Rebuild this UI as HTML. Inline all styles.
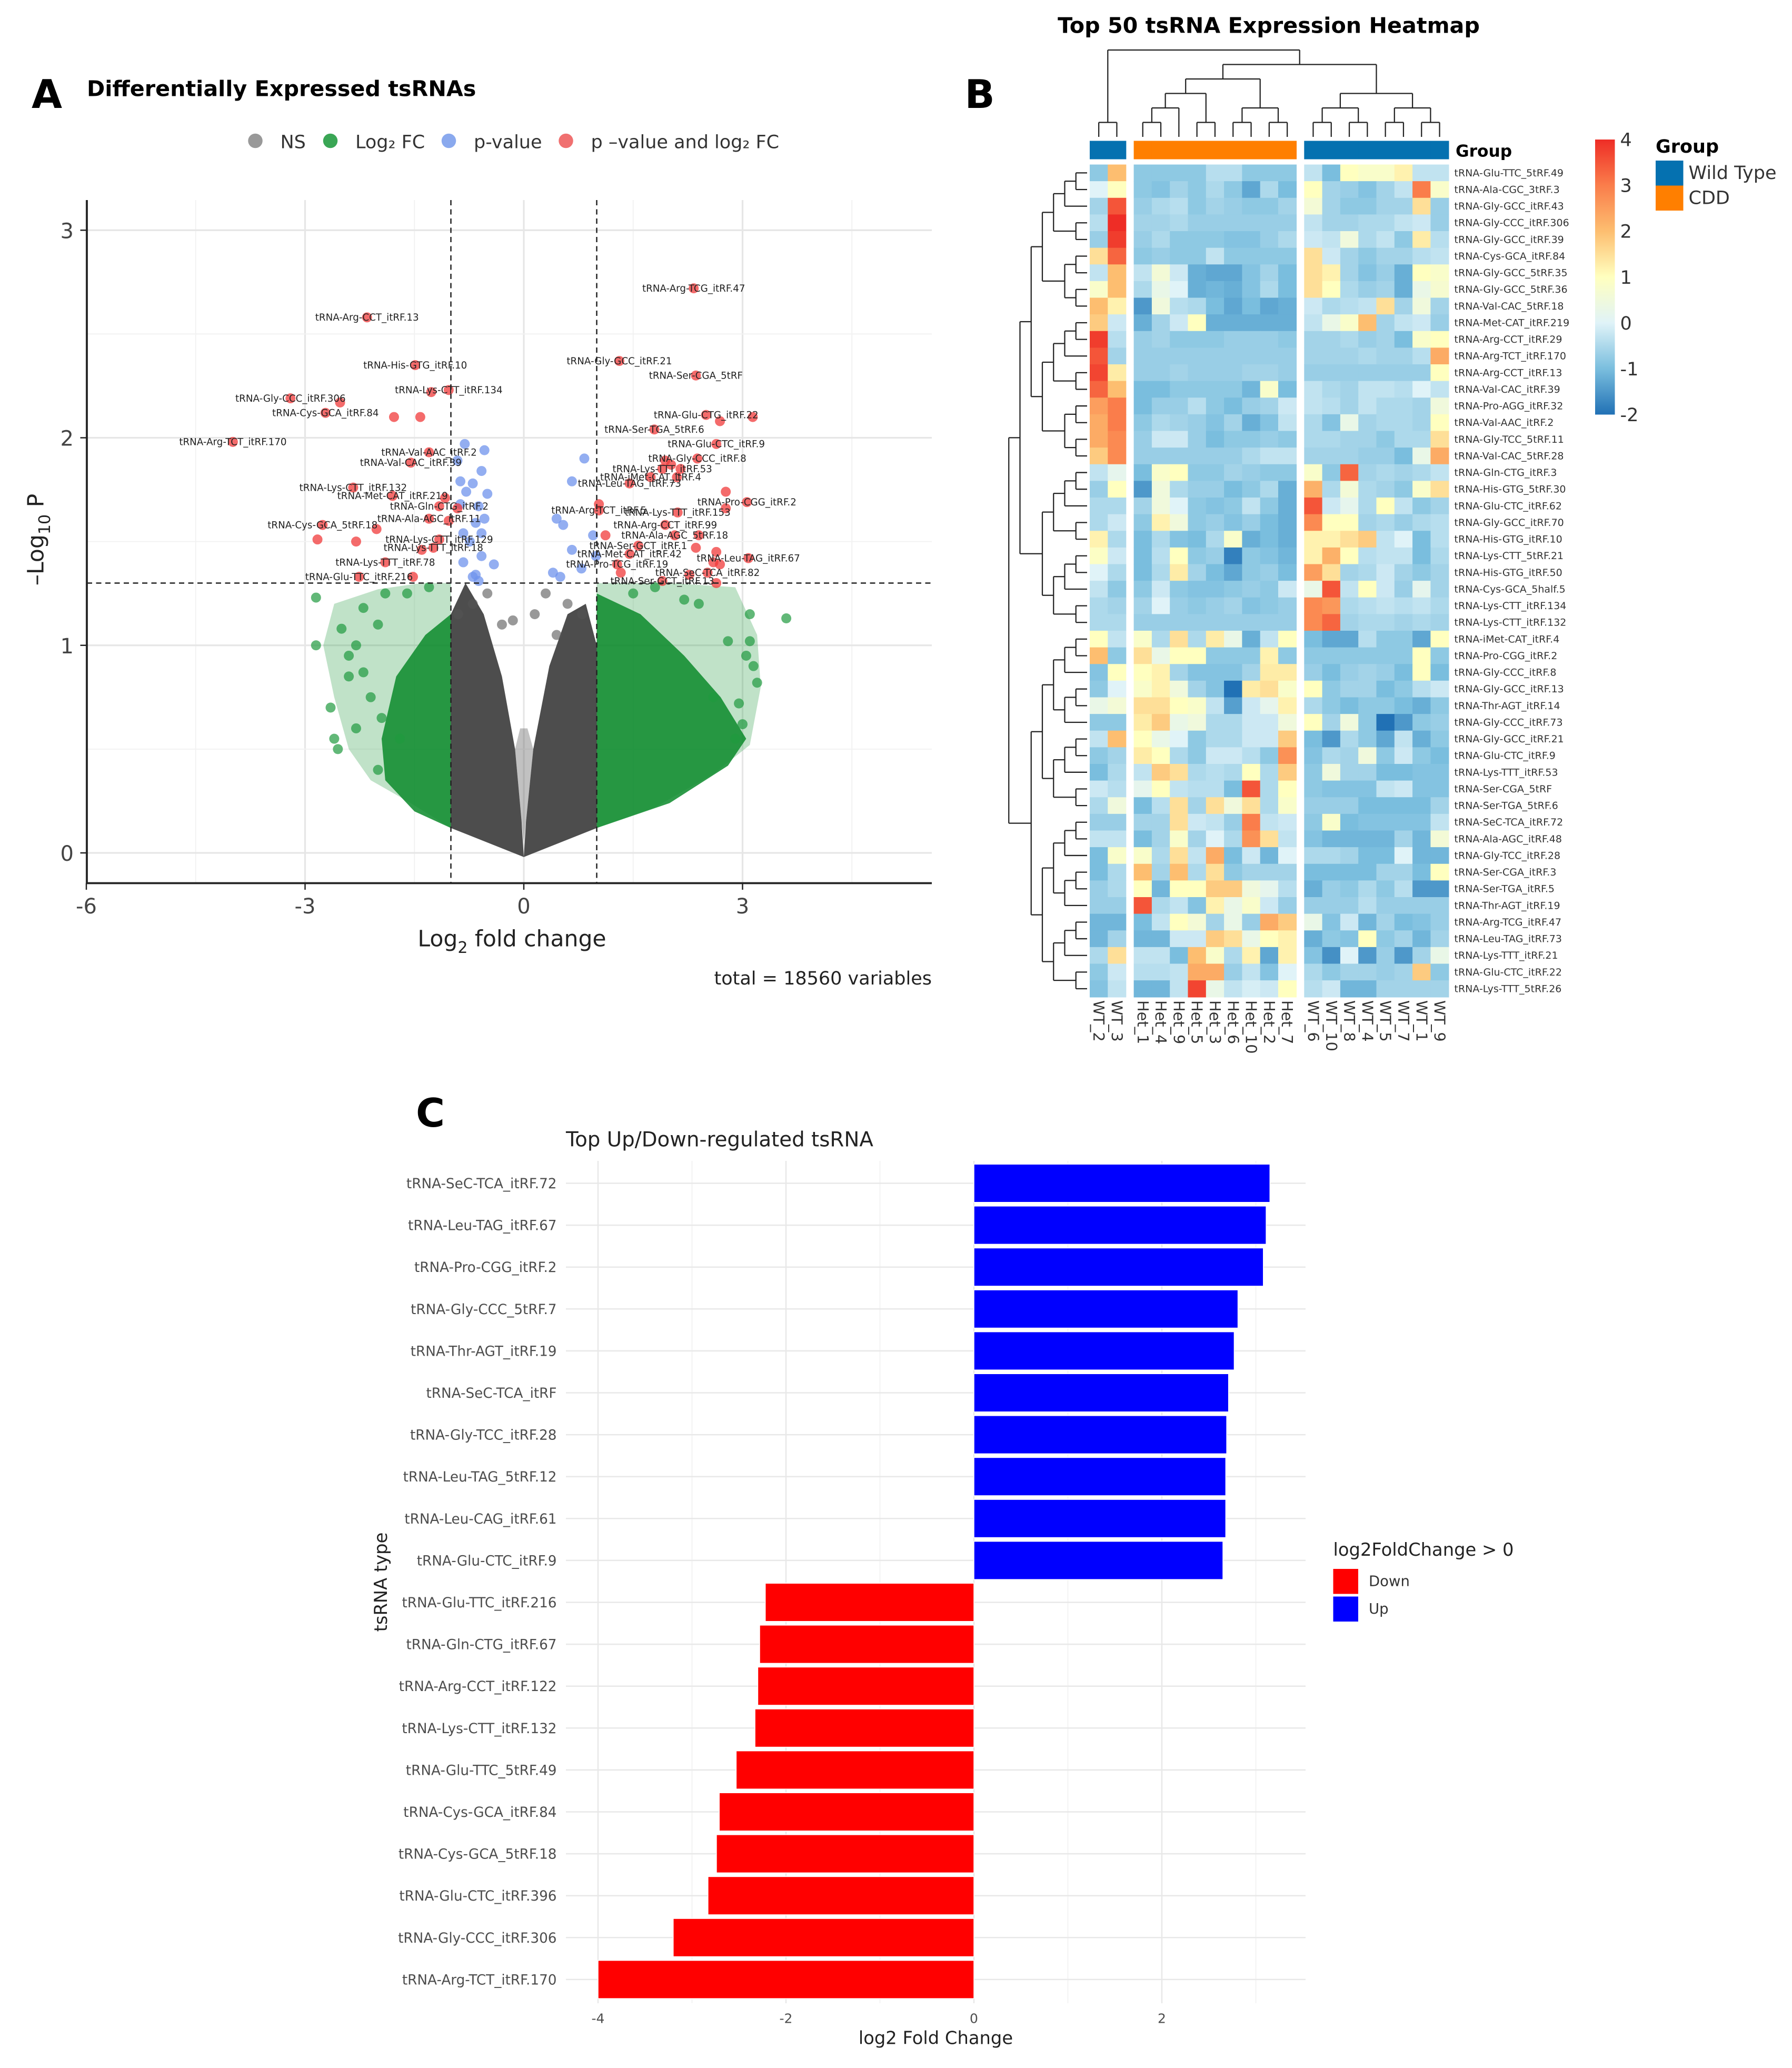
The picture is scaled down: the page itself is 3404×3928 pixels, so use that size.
<!DOCTYPE html>
<html><head><meta charset="utf-8"><style>
html,body{margin:0;padding:0;background:#fff}
svg{display:block}
text{font-family:"DejaVu Sans","Liberation Sans",sans-serif}
</style></head><body>
<svg id="s" xmlns="http://www.w3.org/2000/svg" width="3404" height="3928" viewBox="0 0 1361.6 1571.2">
<rect width="1361.6" height="1571.2" fill="#fff"/>
<g id="A"></g>
<g id="B"></g>
<g id="C"></g>
</svg>
<script>
// ===== Panel A data =====
const redX=[-2.15,-1.49,1.31,2.36,-1.03,-1.27,-3.2,-2.52,-2.72,-1.78,-1.42,2.5,3.14,2.69,1.79,-3.99,2.64,-1.3,2.38,1.94,2.02,-1.55,1.9,2.15,1.74,2.1,1.45,-2.34,-1.8,-1.08,-1.16,-0.91,1.03,1.03,3.06,2.77,2.77,2.11,-1.3,-1.03,1.94,-2.76,-2.02,-2.83,-2.3,2.07,1.12,2.4,-1.16,1.57,2.36,-1.24,-1.4,1.45,2.64,3.08,2.6,2.69,-1.9,1.28,2.52,2.27,-2.26,-1.52,1.9,1.33,2.64,2.33];
const redY=[2.58,2.35,2.37,2.30,2.23,2.22,2.19,2.17,2.12,2.1,2.1,2.11,2.1,2.08,2.04,1.98,1.97,1.93,1.9,1.89,1.87,1.88,1.85,1.85,1.81,1.81,1.78,1.76,1.72,1.71,1.67,1.66,1.65,1.68,1.69,1.74,1.66,1.64,1.61,1.6,1.58,1.58,1.56,1.51,1.5,1.53,1.53,1.53,1.51,1.48,1.47,1.47,1.46,1.44,1.45,1.42,1.4,1.39,1.4,1.39,1.35,1.34,1.33,1.33,1.31,1.35,1.3,2.72];
const redLab=["tRNA-Arg-CCT_itRF.13","tRNA-His-GTG_itRF.10","tRNA-Gly-GCC_itRF.21","tRNA-Ser-CGA_5tRF","tRNA-Lys-CTT_itRF.134","","tRNA-Gly-CCC_itRF.306","","tRNA-Cys-GCA_itRF.84","","","tRNA-Glu-CTG_itRF.22","","","tRNA-Ser-TGA_5tRF.6","tRNA-Arg-TCT_itRF.170","tRNA-Glu-CTC_itRF.9","tRNA-Val-AAC_itRF.2","tRNA-Gly-CCC_itRF.8","","","tRNA-Val-CAC_itRF.39","tRNA-Lys-TTT_itRF.53","","tRNA-iMet-CAT_itRF.4","","tRNA-Leu-TAG_itRF.73","tRNA-Lys-CTT_itRF.132","tRNA-Met-CAT_itRF.219","","tRNA-Gln-CTG_itRF.2","","tRNA-Arg-TCT_itRF.5","","tRNA-Pro-CGG_itRF.2","","","tRNA-Lys-TTT_itRF.153","tRNA-Ala-AGC_itRF.11","","tRNA-Arg-CCT_itRF.99","tRNA-Cys-GCA_5tRF.18","","","","tRNA-Ala-AGC_5tRF.18","","","tRNA-Lys-CTT_itRF.129","tRNA-Ser-GCT_itRF.1","","tRNA-Lys-TTT_itRF.18","","tRNA-Met-CAT_itRF.42","","tRNA-Leu-TAG_itRF.67","","","tRNA-Lys-TTT_itRF.78","tRNA-Pro-TCG_itRF.19","tRNA-SeC-TCA_itRF.82","","tRNA-Glu-TTC_itRF.216","","tRNA-Ser-GCT_itRF.13","","","tRNA-Arg-TCG_itRF.47"];
const blueX=[-0.81,-0.54,-0.91,-0.58,-0.87,-0.7,-0.5,-0.79,-0.87,-0.62,-0.54,-0.66,-0.83,-0.58,-0.74,-0.58,-0.83,-0.41,-0.66,-0.62,0.83,0.66,0.45,0.54,0.66,0.95,0.4,0.79,0.99,0.5,-0.7];
const blueY=[1.97,1.94,1.89,1.84,1.79,1.78,1.73,1.74,1.68,1.67,1.61,1.59,1.54,1.54,1.5,1.43,1.4,1.39,1.34,1.31,1.9,1.79,1.61,1.58,1.46,1.53,1.35,1.37,1.43,1.33,1.33];
const greenX=[-2.85,-2.85,-2.3,-2.6,-2.55,-2.0,3.6,3.1,3.15,2.4,-1.9,-2.5,-2.2,2.9,3.0,-2.2,-1.6,2.8,2.2,-2.4,1.5,1.8,-1.3,2.6,3.05,-2.1,-1.95,-2.4,-2.65,3.2,3.1,2.95,-2.3,-1.7,-2.0];
const greenY=[1.23,1.0,0.6,0.55,0.5,0.4,1.13,1.15,0.9,1.2,1.25,1.08,0.87,0.55,0.62,1.18,1.25,1.02,1.22,0.95,1.25,1.28,1.28,0.75,0.95,0.75,0.65,0.85,0.7,0.82,1.02,0.72,1.0,0.55,1.1];
const greyX=[-0.5,-0.7,0.3,0.6,0.8,-0.9,-0.3,0.15,-0.15,0.45];
const greyY=[1.25,1.2,1.25,1.2,1.15,1.15,1.1,1.15,1.12,1.05];
const xTicksA=[-6,-3,0,3];
const yTicksA=[0,1,2,3];

// ===== Panel B data =====
const hmCols=["WT_2","WT_3","Het_1","Het_4","Het_9","Het_5","Het_3","Het_6","Het_10","Het_2","Het_7","WT_6","WT_10","WT_8","WT_4","WT_5","WT_7","WT_1","WT_9"];
const hmGroups=["WT","WT","CDD","CDD","CDD","CDD","CDD","CDD","CDD","CDD","CDD","WT","WT","WT","WT","WT","WT","WT","WT"];
const hmRows=["tRNA-Glu-TTC_5tRF.49","tRNA-Ala-CGC_3tRF.3","tRNA-Gly-GCC_itRF.43","tRNA-Gly-CCC_itRF.306","tRNA-Gly-GCC_itRF.39","tRNA-Cys-GCA_itRF.84","tRNA-Gly-GCC_5tRF.35","tRNA-Gly-GCC_5tRF.36","tRNA-Val-CAC_5tRF.18","tRNA-Met-CAT_itRF.219","tRNA-Arg-CCT_itRF.29","tRNA-Arg-TCT_itRF.170","tRNA-Arg-CCT_itRF.13","tRNA-Val-CAC_itRF.39","tRNA-Pro-AGG_itRF.32","tRNA-Val-AAC_itRF.2","tRNA-Gly-TCC_5tRF.11","tRNA-Val-CAC_5tRF.28","tRNA-Gln-CTG_itRF.3","tRNA-His-GTG_5tRF.30","tRNA-Glu-CTC_itRF.62","tRNA-Gly-GCC_itRF.70","tRNA-His-GTG_itRF.10","tRNA-Lys-CTT_5tRF.21","tRNA-His-GTG_itRF.50","tRNA-Cys-GCA_5half.5","tRNA-Lys-CTT_itRF.134","tRNA-Lys-CTT_itRF.132","tRNA-iMet-CAT_itRF.4","tRNA-Pro-CGG_itRF.2","tRNA-Gly-CCC_itRF.8","tRNA-Gly-GCC_itRF.13","tRNA-Thr-AGT_itRF.14","tRNA-Gly-CCC_itRF.73","tRNA-Gly-GCC_itRF.21","tRNA-Glu-CTC_itRF.9","tRNA-Lys-TTT_itRF.53","tRNA-Ser-CGA_5tRF","tRNA-Ser-TGA_5tRF.6","tRNA-SeC-TCA_itRF.72","tRNA-Ala-AGC_itRF.48","tRNA-Gly-TCC_itRF.28","tRNA-Ser-CGA_itRF.3","tRNA-Ser-TGA_itRF.5","tRNA-Thr-AGT_itRF.19","tRNA-Arg-TCG_itRF.47","tRNA-Leu-TAG_itRF.73","tRNA-Lys-TTT_itRF.21","tRNA-Glu-CTC_itRF.22","tRNA-Lys-TTT_5tRF.26"];
const hmVals=[
[-0.8,2,-0.8,-0.8,-0.8,-0.8,-0.4,-0.4,-0.8,-0.8,-0.8,-0.3,-1,1,0.8,0.8,1.2,-0.3,-0.3],
[0,1,-0.8,-0.9,-0.6,-0.8,-0.5,-0.8,-1.3,-0.5,-1,1,-0.6,-0.7,-0.9,-0.6,-0.3,3,0.8],
[-0.6,3.5,-0.7,-0.5,-0.4,-0.8,-0.6,-0.7,-0.8,-0.8,-0.6,0.6,-0.6,-0.8,-0.8,-0.6,-0.6,1.5,-0.7],
[-0.4,4,-0.6,-0.6,-0.5,-0.7,-0.7,-0.7,-0.7,-0.7,-0.7,-0.3,-0.6,-0.6,-0.5,-0.5,-0.3,-0.2,-0.7],
[-0.7,3.8,-0.7,-0.5,-0.8,-0.8,-0.8,-0.9,-0.9,-0.7,-0.5,-0.2,-0.3,0.5,-0.5,-0.3,-0.8,1.3,-0.4],
[1.5,3.3,-0.8,-0.7,-0.8,-0.8,-0.3,-0.8,-0.8,-0.8,-0.8,1.5,-0.2,-0.6,-0.8,-0.6,-0.6,-0.4,-0.3],
[-0.3,2,-0.3,0.6,-0.2,-1.2,-1.3,-1.3,-0.9,-0.6,-1,1.5,1.2,-0.6,-0.9,-0.7,-1.2,1,0.8],
[0.8,2,-0.5,0.3,0,-1.2,-1.1,-1.2,-0.9,-0.5,-1,1.5,1,-0.5,-0.7,-0.6,-1.2,0.3,0.7],
[2,1.2,-1.5,0.5,-0.4,-0.5,-1,-1.3,-1,-1.3,-1.2,-0.2,-0.5,-0.4,-0.3,1.5,-0.6,0.5,-0.6],
[1.8,-0.2,-1.2,-0.6,-0.2,1,-1.2,-1.2,-1.2,-1.2,-1.2,-0.3,0.3,0.8,2,-0.6,-0.3,-0.2,-0.7],
[3.8,-0.4,-0.7,-0.6,-0.8,-0.8,-0.8,-0.7,-0.7,-0.7,-0.8,-0.6,-0.6,-0.5,-0.7,-0.6,-1,0.8,1],
[3.5,-0.6,-0.7,-0.7,-0.7,-0.7,-0.7,-0.7,-0.7,-0.7,-0.7,-0.6,-0.6,-0.6,-0.5,-0.6,-0.6,-0.4,2.3],
[3.7,1.3,-0.7,-0.7,-0.6,-0.7,-0.7,-0.7,-0.6,-0.6,-0.7,-0.7,-0.7,-0.7,-0.7,-0.7,-0.7,-0.7,1],
[3.3,2,-1,-1,-0.8,-0.8,-0.8,-0.8,-1.1,0.8,-1,-0.3,-0.5,-0.6,-0.3,-0.3,-0.4,0,-0.3],
[2.5,3,-1,-0.7,-0.7,-0.4,-0.8,-1,-0.7,-0.6,-0.2,-0.3,-0.4,-0.6,-0.3,-0.5,-0.5,-0.6,0.5],
[2.3,3,-0.8,-0.5,-0.6,-0.7,-0.9,-0.6,-1.2,-0.9,-0.3,-0.5,-0.9,0.3,-0.6,-0.5,-0.5,-0.6,1],
[2.3,2.8,-0.7,-0.2,-0.2,-0.7,-1,-0.8,-0.8,-0.7,-0.8,-0.5,-0.5,-0.6,-0.6,-0.8,-0.5,-0.5,1.5],
[1.8,2.8,-0.7,-0.7,-0.7,-0.7,-0.7,-0.7,-0.5,-0.3,-0.3,-0.6,-0.6,-0.6,-0.7,-0.7,-1,0.3,2.3],
[-0.3,0.2,-1,0.8,1,-0.8,-0.8,-0.6,-0.7,-0.8,-0.8,0.8,-0.8,3.3,-0.6,-0.5,-0.6,-0.5,-0.3],
[-0.7,1,-1.5,0.5,-0.5,-0.7,-0.7,-1,-0.8,-0.5,-1.2,2.2,-0.5,0.6,-0.5,-0.6,-0.8,0.8,1.5],
[-0.5,-0.5,-0.6,0.5,0,-0.8,-0.9,-0.8,-0.3,-0.8,-1.2,3.5,-0.2,0.2,-0.5,1,-0.3,-0.8,-0.6],
[-0.5,-0.2,-0.8,1.2,0.5,-0.8,-0.7,-0.9,-0.7,-1,-1.2,2.8,1,1,-0.6,-0.5,-0.7,-0.5,-0.4],
[1.2,-0.5,-1,-0.5,-0.9,-1,-0.5,0.8,-1.2,-1,-1.2,1.2,1.2,1.5,1.8,-0.3,0,-1,-0.4],
[0.9,-0.2,-1,-0.4,1,-0.8,-0.7,-1.8,-0.8,-0.9,-1.1,1.2,2.2,1,-0.4,-0.3,-0.3,-1,-0.5],
[0,-0.5,-1,-0.5,1.3,-0.6,-1,-1.3,-0.8,-0.7,-1,2.5,1.5,-0.6,-0.5,-0.2,-0.6,-0.8,-0.6],
[-0.3,-0.8,-0.8,-0.2,-0.8,-0.9,-0.9,-0.8,-0.7,-0.8,-0.2,0.3,3.5,-0.3,1,-0.2,-0.7,0.2,-0.6],
[-0.5,-0.6,-0.6,0,-0.7,-0.8,-0.7,-0.6,-0.9,-0.8,-0.7,2.8,2.6,-0.5,-0.4,-0.3,-0.4,-0.3,-0.5],
[-0.5,-0.5,-0.7,-0.7,-0.7,-0.7,-0.7,-0.7,-0.7,-0.7,-0.7,2.8,3.3,-0.6,-0.5,-0.5,-0.6,-0.5,-0.6],
[1,-0.3,0.8,-0.5,1.5,-0.5,1.3,0.3,-1.2,-0.3,1,-1,-1.3,-1.3,-0.4,-0.8,-0.8,-1.3,1],
[2,-0.8,1.5,0.3,1,1,-0.8,-0.8,-0.8,1.2,-0.8,-0.8,-0.8,-0.8,-0.8,-0.8,-0.8,1,-0.8],
[-0.9,1,1,1.2,-0.6,-0.9,-0.9,-0.9,-0.6,1.3,1.3,-0.7,-1,-0.7,-0.6,-0.7,-1,1,-1],
[-0.8,0,0.8,1.2,0.5,-0.6,-0.9,-2,1.3,1.5,0.8,1,-0.8,-0.6,-0.6,-1,-0.8,-0.4,-0.2],
[0.3,0.6,1.5,1.5,1,0.8,-0.3,-1.4,-0.2,0.2,1.2,-0.5,-0.8,-1,-0.8,-0.8,-1,-1.2,-0.8],
[-0.8,-0.8,1.3,1.8,0.3,0.5,-0.5,-0.5,-0.2,-0.2,0.5,1,-0.6,0.5,-0.8,-2,-1.5,-0.8,-0.7],
[-0.3,2,1,0.3,0,-0.8,-0.5,-0.5,-0.2,-0.2,1.8,-1,-1.5,-0.5,-0.8,-1.3,-0.3,-1.2,-0.8],
[-0.8,-0.6,1.3,1,-0.5,-0.8,-0.2,-0.2,-0.4,-0.8,2.7,-0.9,-0.5,-0.6,0.5,-0.8,-0.2,-0.8,-1],
[-1,-0.5,-0.3,1.8,1.5,-0.5,-0.4,-0.5,1,-0.5,1.8,-0.8,0.5,-0.6,-0.6,-1,-1,-0.9,-0.9],
[-0.2,-0.4,0.2,1,-0.3,-0.4,-0.4,-1,3.5,-0.5,1,-0.8,-0.9,-0.9,-0.9,-0.3,-0.2,-0.9,-0.9],
[-0.5,0.5,-1,-0.4,1.5,-0.6,1.5,0.5,1.5,-0.5,0.8,-0.7,-0.7,-0.7,-1,-1,-1,-1,-0.6],
[-0.7,-0.7,-0.6,-0.6,1.5,-0.2,-0.3,-0.7,3,-0.3,-0.2,-0.8,0.8,-1,-0.9,-0.9,-0.9,-0.9,-0.3],
[-0.3,-0.3,-1,-0.6,0.8,-0.6,0,-0.5,2.7,1.5,-0.3,-0.9,-1.1,-1.1,-1.1,-1.1,-0.6,-1.1,0.6],
[-1,0.8,0.8,-0.5,1.5,-0.3,2.3,-1,-0.2,-1.1,0,-0.5,-0.5,-0.6,-1,-1,0,-1.1,-1.1],
[-1,-0.5,2,-0.6,2,-0.5,1.5,-0.8,-0.6,-0.6,-0.6,-1,-1,-1,-1,-0.6,-0.6,-1,1],
[-0.7,-0.5,1,-1.1,1,1,1.8,1.8,0.5,0.2,-0.4,-1.2,-0.7,-0.8,-0.5,-0.8,-0.4,-1.5,-1.5],
[-0.7,-0.7,3.5,-0.5,-0.3,-0.9,1.2,0.3,0.8,-0.2,-0.7,-0.7,-0.7,-0.7,-0.4,-0.7,-0.7,-0.7,-0.7],
[-1.1,-1.1,-1,-0.3,1,0.6,-0.6,0.3,-0.7,2.3,1.8,0.3,-0.9,-0.2,-1.1,-0.6,-1,-0.9,-0.7],
[-1.1,-0.6,-1.1,-1.1,-0.2,-0.2,1.8,1.5,0.3,1,1.2,-1.2,-0.8,-0.9,1,-0.8,-0.6,-1.1,-0.6],
[-0.5,1.5,-0.3,-0.3,-1,2,0.8,-0.5,1.2,-1.3,1.2,-0.9,-1.6,0,-1.5,-0.7,-1.5,-0.6,0.3],
[-0.8,-0.2,-0.4,-0.4,-0.3,2.3,2.3,-0.7,-0.3,-0.9,0,-0.5,-0.8,-0.6,-0.6,-0.7,-0.6,1.8,-0.8],
[-0.9,-0.3,-1.1,-1.1,-0.3,3.7,0.3,-0.3,-0.1,-0.2,1,-0.4,-0.2,-1.1,-1.1,-0.6,-0.6,-0.6,-0.6]];
const scaleTicks=[4,3,2,1,0,-1,-2];

// ===== Panel C data =====
const barLabels=["tRNA-SeC-TCA_itRF.72","tRNA-Leu-TAG_itRF.67","tRNA-Pro-CGG_itRF.2","tRNA-Gly-CCC_5tRF.7","tRNA-Thr-AGT_itRF.19","tRNA-SeC-TCA_itRF","tRNA-Gly-TCC_itRF.28","tRNA-Leu-TAG_5tRF.12","tRNA-Leu-CAG_itRF.61","tRNA-Glu-CTC_itRF.9","tRNA-Glu-TTC_itRF.216","tRNA-Gln-CTG_itRF.67","tRNA-Arg-CCT_itRF.122","tRNA-Lys-CTT_itRF.132","tRNA-Glu-TTC_5tRF.49","tRNA-Cys-GCA_itRF.84","tRNA-Cys-GCA_5tRF.18","tRNA-Glu-CTC_itRF.396","tRNA-Gly-CCC_itRF.306","tRNA-Arg-TCT_itRF.170"];
const barValues=[3.15,3.11,3.08,2.81,2.77,2.71,2.69,2.68,2.68,2.65,-2.22,-2.28,-2.3,-2.33,-2.53,-2.71,-2.74,-2.83,-3.2,-4.0];
const xTicksC=[-4,-2,0,2];

const NS="http://www.w3.org/2000/svg";
function mk(parent,tag,attrs,txt){const e=document.createElementNS(NS,tag);for(const k in attrs)e.setAttribute(k,attrs[k]);if(txt!==undefined)e.textContent=txt;parent.appendChild(e);return e;}

// ---------- Panel A ----------
(function(){
const g=document.getElementById('A');
const xs=v=>398+v*55.4, ys=v=>648-v*157.7;
let t;
t=mk(g,'text',{x:24,y:82,'font-size':30,'font-weight':'bold'},'A');


t=mk(g,'text',{x:66,y:73,'font-size':16.5,'font-weight':'bold'},'Differentially Expressed tsRNAs');


const leg=[[194,'#999999','NS',213],[251,'#3aa655','Log\u2082 FC',270],[341,'#8aa9ee','p-value',360],[430,'#f07070','p \u2013value and log\u2082 FC',449]];
leg.forEach(l=>{const lg=mk(g,'g',{});


mk(lg,'circle',{cx:l[0],cy:107,r:5.5,fill:l[1]});mk(lg,'text',{x:l[3],y:112.5,'font-size':14,fill:'#333'},l[2]);});
[-4.5,-1.5,1.5,4.5].forEach(v=>mk(g,'line',{x1:xs(v),x2:xs(v),y1:152,y2:671,stroke:'#f2f2f2','stroke-width':0.8}));
[-6,-3,0,3].forEach(v=>mk(g,'line',{x1:xs(v),x2:xs(v),y1:152,y2:671,stroke:'#e6e6e6','stroke-width':1.3}));
[0.5,1.5,2.5].forEach(v=>mk(g,'line',{x1:66,x2:708,y1:ys(v),y2:ys(v),stroke:'#f2f2f2','stroke-width':0.8}));
yTicksA.forEach(v=>mk(g,'line',{x1:66,x2:708,y1:ys(v),y2:ys(v),stroke:'#e6e6e6','stroke-width':1.3}));
const poly=(pts,fill,op,name)=>{const p=mk(g,'polygon',{points:pts.map(q=>xs(q[0])+','+ys(q[1])).join(' '),fill:fill,'fill-opacity':op});};
poly([[-1,0.12],[-1.6,0.25],[-2.1,0.35],[-2.4,0.5],[-2.6,0.75],[-2.75,1.0],[-2.6,1.2],[-2,1.27],[-1.4,1.3],[-1,1.3]],'#2f9e4a',0.3,'green-cloud-left');
poly([[-1,0.12],[-1.5,0.2],[-1.9,0.35],[-1.95,0.55],[-1.75,0.85],[-1.35,1.05],[-1,1.15]],'#0a8a2a',0.85,'green-core-left');
poly([[1,0.12],[1.8,0.22],[2.6,0.38],[3.1,0.52],[3.25,0.8],[3.2,1.05],[2.9,1.28],[2,1.3],[1,1.3]],'#2f9e4a',0.3,'green-cloud-right');
poly([[1,0.12],[2,0.24],[2.8,0.42],[3.05,0.55],[2.7,0.75],[2.2,0.95],[1.6,1.15],[1,1.25]],'#0a8a2a',0.85,'green-core-right');
poly([[0,-0.02],[-1,0.12],[-1,1.15],[-0.8,1.3],[-0.55,1.15],[-0.3,0.85],[-0.12,0.5],[-0.03,0.15]],'#4d4d4d',1,'ns-cloud-left');
poly([[0,-0.02],[1,0.12],[1,1.0],[0.85,1.2],[0.6,1.15],[0.35,0.9],[0.13,0.5],[0.03,0.15]],'#4d4d4d',1,'ns-cloud-right');
poly([[-0.03,0.15],[0,0.05],[0.03,0.15],[0.13,0.5],[0.05,0.6],[-0.05,0.6],[-0.12,0.5]],'#4d4d4d',0.35,'ns-cloud-center');
const pts=(X,Y,fill,op,name)=>X.forEach((x,i)=>{const c=mk(g,'circle',{cx:xs(x),cy:ys(Y[i]),r:3.8,fill:fill,'fill-opacity':op});});
pts(greyX,greyY,'#555',0.6,'ns-point');
pts(greenX,greenY,'#1f9a3f',0.7,'log2fc-point');
pts(blueX,blueY,'#6f93ec',0.75,'pvalue-point');
pts(redX,redY,'#f03a3a',0.75,'sig-point');
redX.forEach((x,i)=>{if(!redLab[i])return;const tt=mk(g,'text',{x:xs(x),y:ys(redY[i])+2.5,'font-size':7.3,fill:'#222','text-anchor':'middle'},redLab[i]);});
[-1,1].forEach(v=>{const l=mk(g,'line',{x1:xs(v),x2:xs(v),y1:152,y2:671,stroke:'#222','stroke-width':1,'stroke-dasharray':'4,3'});});
t=mk(g,'line',{x1:66,x2:708,y1:ys(1.3),y2:ys(1.3),stroke:'#222','stroke-width':1,'stroke-dasharray':'4,3'});


mk(g,'line',{x1:66,x2:66,y1:152,y2:671,stroke:'#222','stroke-width':1.5});
mk(g,'line',{x1:66,x2:708,y1:671,y2:671,stroke:'#222','stroke-width':1.5});
yTicksA.forEach(v=>{mk(g,'line',{x1:61,x2:66,y1:ys(v),y2:ys(v),stroke:'#222'});const tt=mk(g,'text',{x:56,y:ys(v)+6,'font-size':16,fill:'#444','text-anchor':'end'},v);});
xTicksA.forEach(v=>{mk(g,'line',{x1:xs(v),x2:xs(v),y1:671,y2:676,stroke:'#222'});const tt=mk(g,'text',{x:xs(v),y:694,'font-size':16,fill:'#444','text-anchor':'middle'},v);});
t=mk(g,'text',{x:389,y:719,'font-size':17,fill:'#222','text-anchor':'middle'});
t.innerHTML='Log<tspan font-size="12" dy="5">2</tspan><tspan dy="-5"> fold change</tspan>';


t=mk(g,'text',{x:0,y:0,'font-size':17,fill:'#222','text-anchor':'middle',transform:'translate(33,410) rotate(-90)'});
t.innerHTML='\u2013Log<tspan font-size="12" dy="5">10</tspan><tspan dy="-5"> P</tspan>';


t=mk(g,'text',{x:708,y:748,'font-size':14,fill:'#222','text-anchor':'end'},'total = 18560 variables');


})();

// ---------- Panel B ----------
(function(){
const g=document.getElementById('B');
const stops=[[-2,[33,113,181]],[-1,[122,190,222]],[0,[224,243,248]],[1,[255,255,191]],[2,[253,190,112]],[3,[250,125,75]],[4,[238,45,38]]];
function col(v){v=Math.max(-2,Math.min(4,v));for(let i=0;i<stops.length-1;i++){const a=stops[i],b=stops[i+1];if(v<=b[0]){const f=(v-a[0]);const c=a[1].map((q,k)=>Math.round(q+(b[1][k]-q)*f));return 'rgb('+c.join(',')+')';}}return 'rgb(238,45,38)';}
const cw=13.72, rh=12.65, top=125;
const colX=i=>828+i*cw+(i>=2?6:0)+(i>=11?6:0);
const rowY=j=>top+j*rh;
let t;
t=mk(g,'text',{x:733,y:82,'font-size':30,'font-weight':'bold'},'B');

t=mk(g,'text',{x:964,y:25,'font-size':16.5,'font-weight':'bold','text-anchor':'middle'},'Top 50 tsRNA Expression Heatmap');

hmVals.forEach((row,j)=>row.forEach((v,i)=>{const r=mk(g,'rect',{x:colX(i),y:rowY(j),width:cw+0.3,height:rh+0.3,fill:col(v)});}));
hmGroups.forEach((gr,i)=>{const r=mk(g,'rect',{x:colX(i),y:107,width:cw+0.3,height:14,fill:gr==='WT'?'#0571b0':'#ff7f00'});});
t=mk(g,'text',{x:1106,y:119,'font-size':12.5,'font-weight':'bold'},'Group');

hmRows.forEach((n,j)=>{const tt=mk(g,'text',{x:1105,y:rowY(j)+rh/2+2.6,'font-size':7.6,fill:'#333'},n);});
hmCols.forEach((n,i)=>{const cx=colX(i)+cw/2;const tt=mk(g,'text',{x:0,y:0,'font-size':11.5,fill:'#333',transform:'translate('+(cx-4)+',760) rotate(90)'},n);});
function build(items){ if(typeof items==='number')return{leaf:items,n:1}; const l=build(items[0]),r=build(items[1]);return{l:l,r:r,n:l.n+r.n};}
function depth(t){return t.leaf!==undefined?0:1+Math.max(depth(t.l),depth(t.r));}
function split(lo,hi){if(lo===hi)return lo;const m=Math.floor((lo+hi)/2);return [split(lo,m),split(m+1,hi)];}
const colTree=build([[0,1],[split(2,10),split(11,18)]]);
const rowTree=build([[split(0,17),split(18,27)],split(28,49)]);
function drawTree(t,pos,base,unit,horiz,ds){const d=depth(t);
 if(t.leaf!==undefined)return{p:pos(t.leaf),h:0};
 const a=drawTree(t.l,pos,base,unit,horiz,ds),b=drawTree(t.r,pos,base,unit,horiz,ds);const h=d*unit;
 const seg=(p1,h1,p2,h2)=>{const L=horiz?mk(g,'line',{x1:base-h1,x2:base-h2,y1:p1,y2:p2,stroke:'#222','stroke-width':0.9}):mk(g,'line',{x1:p1,x2:p2,y1:base-h1,y2:base-h2,stroke:'#222','stroke-width':0.9});};
 seg(a.p,a.h,a.p,h);seg(b.p,b.h,b.p,h);seg(a.p,h,b.p,h);return{p:(a.p+b.p)/2,h:h};}
drawTree(colTree,i=>colX(i)+cw/2,104,11,false,'column-dendrogram');
drawTree(rowTree,j=>rowY(j)+rh/2,826,8.5,true,'row-dendrogram');
const defs=mk(g,'defs',{});const lg=mk(defs,'linearGradient',{id:'cs',x1:0,y1:1,x2:0,y2:0});
stops.forEach((s,k)=>mk(lg,'stop',{offset:(k/6),'stop-color':col(s[0])}));
t=mk(g,'rect',{x:1212,y:106,width:15,height:209,fill:'url(#cs)'});

scaleTicks.forEach(v=>{const y=106+(4-v)/6*209;const tt=mk(g,'text',{x:1231,y:y+5,'font-size':14,fill:'#333'},v);});
t=mk(g,'text',{x:1258,y:116,'font-size':14,'font-weight':'bold'},'Group');

[['Wild Type','#0571b0',122],['CDD','#ff7f00',141]].forEach(e=>{const lgg=mk(g,'g',{});mk(lgg,'rect',{x:1258,y:e[2],width:21,height:19,fill:e[1]});mk(lgg,'text',{x:1283,y:e[2]+14,'font-size':14,fill:'#333'},e[0]);});
})();

// ---------- Panel C ----------
(function(){
const g=document.getElementById('C');
const xs=v=>740+v*71.4;
const step=31.84, y0=899;
const yc=i=>y0+i*step;
let t;
t=mk(g,'text',{x:316,y:856,'font-size':30,'font-weight':'bold'},'C');

t=mk(g,'text',{x:430,y:871,'font-size':15.5,fill:'#222'},'Top Up/Down-regulated tsRNA');

[-3,-1,1,3].forEach(v=>mk(g,'line',{x1:xs(v),x2:xs(v),y1:882,y2:1522,stroke:'#f3f3f3','stroke-width':0.8}));
xTicksC.forEach(v=>mk(g,'line',{x1:xs(v),x2:xs(v),y1:882,y2:1522,stroke:'#e8e8e8','stroke-width':1}));
barLabels.forEach((n,i)=>mk(g,'line',{x1:430,x2:992,y1:yc(i),y2:yc(i),stroke:'#e8e8e8','stroke-width':1}));
barValues.forEach((v,i)=>{const x1=xs(Math.min(0,v)),x2=xs(Math.max(0,v));const r=mk(g,'rect',{x:x1,y:yc(i)-14.5,width:x2-x1,height:29,fill:v>0?'#0000ff':'#ff0000',stroke:'#fff','stroke-width':0.6});});
barLabels.forEach((n,i)=>{const tt=mk(g,'text',{x:423,y:yc(i)+3.8,'font-size':10.5,fill:'#4d4d4d','text-anchor':'end'},n);});
xTicksC.forEach(v=>{const tt=mk(g,'text',{x:xs(v),y:1537,'font-size':10,fill:'#4d4d4d','text-anchor':'middle'},v);});
t=mk(g,'text',{x:711,y:1553,'font-size':13.5,fill:'#222','text-anchor':'middle'},'log2 Fold Change');

t=mk(g,'text',{x:0,y:0,'font-size':13.5,fill:'#222','text-anchor':'middle',transform:'translate(294,1202) rotate(-90)'},'tsRNA type');

t=mk(g,'text',{x:1013,y:1182,'font-size':13.5,fill:'#222'},'log2FoldChange > 0');

[['Down','#ff0000',1192],['Up','#0000ff',1213]].forEach(e=>{const lgg=mk(g,'g',{});mk(lgg,'rect',{x:1013,y:e[2],width:19,height:19,fill:e[1]});mk(lgg,'text',{x:1040,y:e[2]+13,'font-size':11,fill:'#333'},e[0]);});
})();
</script>
</body></html>
